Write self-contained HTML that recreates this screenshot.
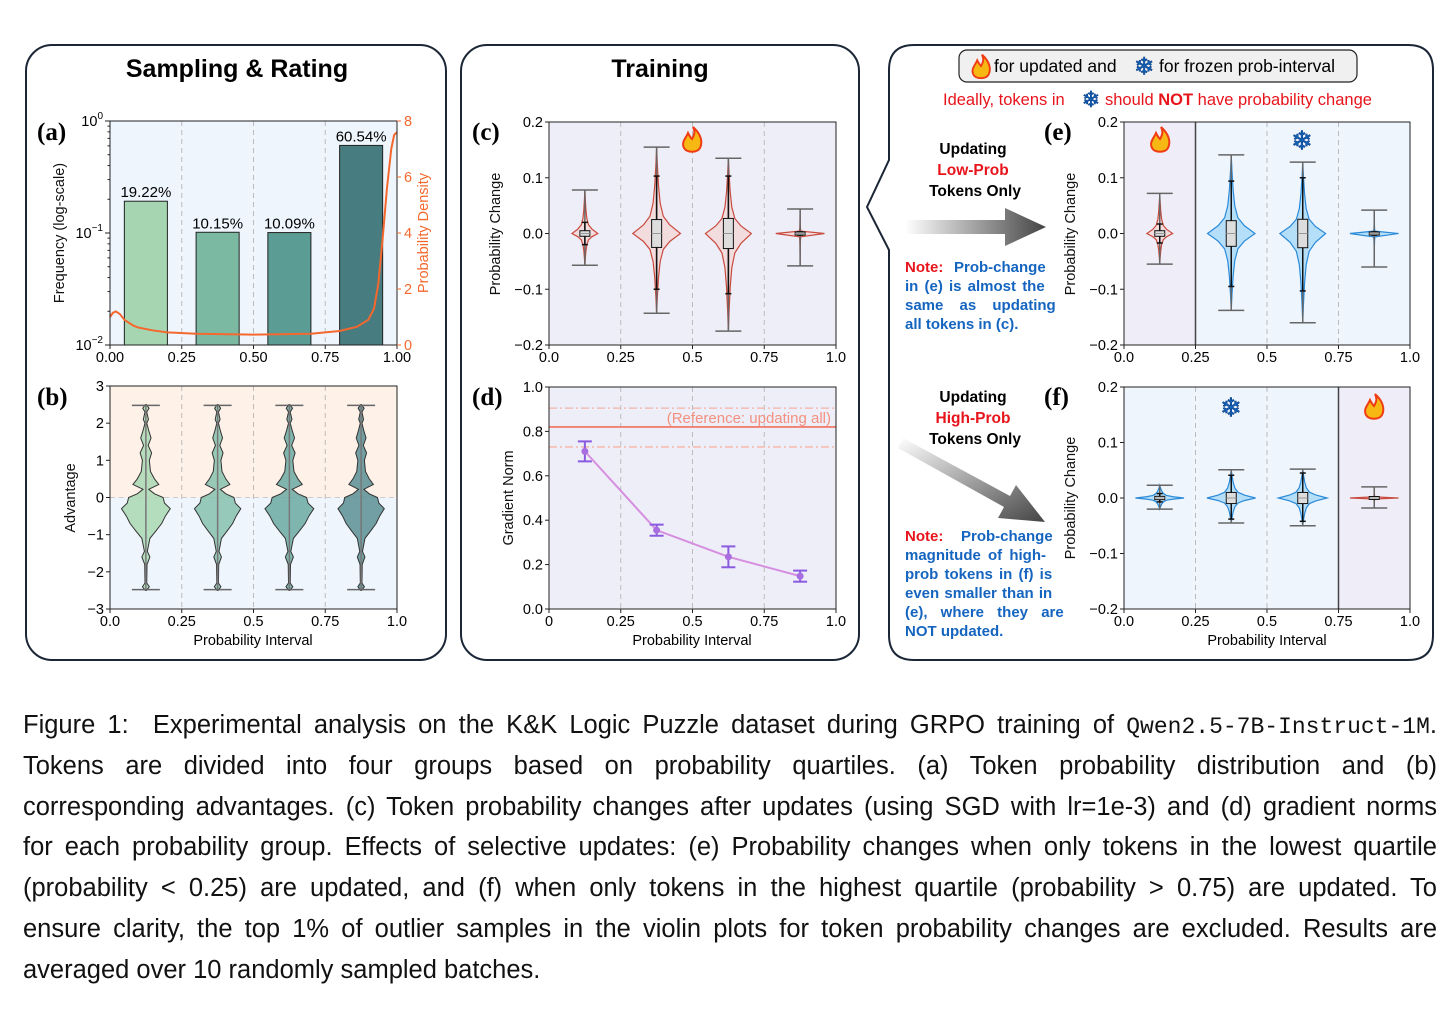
<!DOCTYPE html>
<html><head><meta charset="utf-8">
<style>
body{margin:0;background:#fff;width:1456px;height:1015px;overflow:hidden;font-family:"Liberation Sans","DejaVu Sans",sans-serif}
#cap{position:absolute;left:23px;top:705px;width:1414px;font-family:"Liberation Sans Narrow","Liberation Sans",sans-serif;font-size:25.5px;color:#111}
.ln{height:40.8px;line-height:40.8px;text-align:justify;text-align-last:justify;white-space:nowrap;overflow:hidden}
.mono{font-family:"Liberation Mono",monospace;font-size:23px}
</style></head><body>
<svg id="fig" width="1456" height="690" style="position:absolute;left:0;top:0" xmlns="http://www.w3.org/2000/svg">
<defs>
<linearGradient id="ag" x1="0" x2="1" y1="0" y2="0"><stop offset="0" stop-color="#fff"/><stop offset="1" stop-color="#444"/></linearGradient>
<linearGradient id="ag2" x1="0" x2="1" y1="0" y2="1"><stop offset="0" stop-color="#fff"/><stop offset="1" stop-color="#444"/></linearGradient>
</defs>
<rect x="26" y="45" width="420" height="615" rx="26" fill="none" stroke="#1b2636" stroke-width="2"/>
<rect x="461" y="45" width="398" height="615" rx="26" fill="none" stroke="#1b2636" stroke-width="2"/>
<path d="M914,45 H1408 Q1433,45 1433,70 V635 Q1433,660 1408,660 H914 Q889,660 889,635 V250 L867,207 L889,160 V70 Q889,45 914,45 Z" fill="none" stroke="#1b2636" stroke-width="2"/>
<text x="237" y="77" text-anchor="middle" font-size="25" font-weight="bold">Sampling &amp; Rating</text>
<text x="660" y="77" text-anchor="middle" font-size="25" font-weight="bold">Training</text>
<rect x="959" y="50" width="398" height="32" rx="8" fill="#f0f0f0" stroke="#222" stroke-width="1.2"/>
<text font-size="17.5" y="72"><tspan x="994">for updated and</tspan><tspan x="1159">for frozen prob-interval</tspan></text>
<text font-size="16.5" y="105" fill="#e8141c" x="943">Ideally, tokens in</text>
<text font-size="16.5" y="105" fill="#e8141c" x="1105">should <tspan font-weight="bold">NOT</tspan> have probability change</text>
<g font-size="15.5" font-weight="bold" text-anchor="middle">
<text x="973" y="154">Updating</text><text x="973" y="175" fill="#e8141c">Low-Prob</text><text x="975" y="196">Tokens Only</text></g>
<g font-size="15.5" font-weight="bold" text-anchor="middle">
<text x="973" y="402">Updating</text><text x="973" y="423" fill="#e8141c">High-Prob</text><text x="975" y="444">Tokens Only</text></g>
<path d="M905,220 H1005 V208 L1046,227 L1005,246 V234 H905 Z" fill="url(#ag)"/>
<path d="M898,448 L903,438 L1010,496 L1016,485 L1045,522 L998,518 L1004,507 Z" fill="url(#ag2)"/>
<g font-size="15" font-weight="bold" fill="#1565c0">
<text x="905" y="272"><tspan fill="#e8141c">Note:</tspan><tspan x="954">Prob-change</tspan></text>
<text x="905" y="291" word-spacing="2">in (e) is almost the</text>
<text x="905" y="310" word-spacing="12">same as updating</text>
<text x="905" y="329">all tokens in (c).</text></g>
<g font-size="15" font-weight="bold" fill="#1565c0">
<text x="905" y="541"><tspan fill="#e8141c">Note:</tspan><tspan x="961">Prob-change</tspan></text>
<text x="905" y="560" word-spacing="3">magnitude of high-</text>
<text x="905" y="579" word-spacing="2">prob tokens in (f) is</text>
<text x="905" y="598" word-spacing="1">even smaller than in</text>
<text x="905" y="617" word-spacing="9">(e), where they are</text>
<text x="905" y="636">NOT updated.</text></g>
<g id="plots"></g>
</svg>
<div id="cap">
<div class="ln">Figure 1:&nbsp; Experimental analysis on the K&amp;K Logic Puzzle dataset during GRPO training of <span class="mono">Qwen2.5-7B-Instruct-1M</span>.</div>
<div class="ln">Tokens are divided into four groups based on probability quartiles. (a) Token probability distribution and (b)</div>
<div class="ln">corresponding advantages. (c) Token probability changes after updates (using SGD with lr=1e-3) and (d) gradient norms</div>
<div class="ln">for each probability group. Effects of selective updates: (e) Probability changes when only tokens in the lowest quartile</div>
<div class="ln">(probability &lt; 0.25) are updated, and (f) when only tokens in the highest quartile (probability &gt; 0.75) are updated. To</div>
<div class="ln">ensure clarity, the top 1% of outlier samples in the violin plots for token probability changes are excluded. Results are</div>
<div class="ln" style="text-align-last:left">averaged over 10 randomly sampled batches.</div>
</div>
<script>
// ---- data ----
const centers = [0.125, 0.375, 0.625, 0.875];
const freqA = [0.1922, 0.1015, 0.1009, 0.6054];
const freqLabels = ["19.22%", "10.15%", "10.09%", "60.54%"];
const kdeX = [0, 0.01, 0.02, 0.035, 0.05, 0.08, 0.1, 0.15, 0.2, 0.3, 0.5, 0.7, 0.8, 0.86, 0.9, 0.92, 0.935, 0.95, 0.965, 0.98, 0.99, 1.0];
const kdeY = [1.0, 1.15, 1.2, 1.1, 0.9, 0.7, 0.62, 0.52, 0.45, 0.4, 0.37, 0.4, 0.5, 0.65, 0.9, 1.3, 2.2, 3.8, 5.6, 7.0, 7.5, 7.6];
const advProfY = [-2.5,-2.4,-2.3,-1.8,-1.6,-1.45,-1.1,-0.9,-0.7,-0.5,-0.3,-0.15,0,0.1,0.22,0.35,0.5,0.7,1.0,1.2,1.4,1.6,1.8,2.0,2.1,2.3,2.4,2.5];
const advProfW = [0.002,0.012,0.003,0.004,0.014,0.005,0.014,0.035,0.055,0.068,0.085,0.065,0.06,0.03,0.01,0.045,0.03,0.016,0.012,0.02,0.008,0.018,0.01,0.003,0.009,0.003,0.011,0.002];
const advScale = [1.0, 0.95, 1.0, 0.95];
const gradMean = [0.71, 0.355, 0.235, 0.148];
const gradErr = [0.045, 0.025, 0.047, 0.025];
const refMean = 0.82, refHi = 0.905, refLo = 0.73;
// [min, max, boxLo, boxHi, innerLo, innerHi, maxHalfWidth]
const chgC = [[-0.057,0.078,-0.005,0.005,-0.02,0.02,0.045],[-0.143,0.155,-0.025,0.025,-0.1,0.103,0.083],[-0.175,0.135,-0.027,0.027,-0.108,0.103,0.08],[-0.058,0.044,-0.001,0.001,-0.003,0.003,0.085]];
const chgE = [[-0.055,0.072,-0.005,0.005,-0.017,0.017,0.045],[-0.138,0.141,-0.023,0.023,-0.095,0.094,0.083],[-0.16,0.128,-0.027,0.024,-0.103,0.1,0.08],[-0.06,0.042,-0.001,0.001,-0.003,0.003,0.085]];
const chgF = [[-0.02,0.023,-0.003,0.003,-0.007,0.008,0.085],[-0.045,0.051,-0.01,0.01,-0.038,0.041,0.085],[-0.05,0.052,-0.01,0.01,-0.042,0.045,0.085],[-0.018,0.02,-0.001,0.001,-0.002,0.002,0.085]];
const shapeT = [-1,-0.8,-0.55,-0.35,-0.2,-0.1,0,0.1,0.2,0.35,0.55,0.8,1];
const shapeW = [0,0.03,0.08,0.15,0.28,0.55,1,0.55,0.28,0.15,0.08,0.03,0];
const xt4 = ["0.0","0.25","0.5","0.75","1.0"];

const NS = "http://www.w3.org/2000/svg";
const root = document.getElementById('plots');
function mk(tag, attrs, name, parent) {
  const el = document.createElementNS(NS, tag);
  for (const k in attrs) el.setAttribute(k, attrs[k]);
  
  
  (parent || root).appendChild(el);
  return el;
}
function txt(x, y, s, name, opt) {
  const t = mk('text', Object.assign({x: x, y: y, 'font-size': 14.5}, opt || {}), name);
  t.textContent = s; return t;
}
function ax(x0, x1, y0, y1, ymin, ymax) {
  return {x0, x1, y0, y1, sx: v => x0 + v * (x1 - x0), sy: v => y1 - (v - ymin) / (ymax - ymin) * (y1 - y0)};
}
function frame(a, name) {
  mk('rect', {x: a.x0, y: a.y0, width: a.x1 - a.x0, height: a.y1 - a.y0, fill: 'none', stroke: '#222', 'stroke-width': 1}, name);
}
function grid(a, name) {
  [0.25, 0.5, 0.75].forEach(v => mk('line', {x1: a.sx(v), x2: a.sx(v), y1: a.y0, y2: a.y1, stroke: '#bbb', 'stroke-dasharray': '5,4', 'stroke-width': 1}, name));
}
function xticks(a, labels, name) {
  labels.forEach((l, i) => {
    const x = a.sx(i / (labels.length - 1));
    mk('line', {x1: x, x2: x, y1: a.y1, y2: a.y1 + 4, stroke: '#222'}, name + '-tick');
    txt(x, a.y1 + 17, l, name + '-label', {'text-anchor': 'middle'});
  });
}
function yticks(a, vals, labels, name) {
  vals.forEach((v, i) => {
    const y = a.sy(v);
    mk('line', {x1: a.x0 - 4, x2: a.x0, y1: y, y2: y, stroke: '#222'}, name + '-tick');
    txt(a.x0 - 6, y + 5, labels[i], name + '-label', {'text-anchor': 'end'});
  });
}
function ylabel(x, y, s, name, col) {
  txt(x, y, s, name, {transform: 'rotate(-90 ' + x + ' ' + y + ')', 'text-anchor': 'middle', fill: col || '#111'});
}
function plabel(x, y, s, name) {
  txt(x, y, s, name, {'font-size': 25, 'font-weight': 'bold', 'font-family': '"Liberation Serif",serif'});
}
function flame(x, y, s, name) {
  const g = mk('g', {transform: 'translate(' + x + ',' + y + ') scale(' + s + ')'}, name);
  mk('path', {d: 'M1,-13 C9,-6 11,2 8,8 C5,13 -5,13 -8,8 C-11,2 -6,-2 -4,-7 C-2,-3 -1,-2 0,-1 C3,-6 3,-9 1,-13 Z', fill: '#f7b814', stroke: '#f03c14', 'stroke-width': 2}, name + '-shape', g);
}
function flake(x, y, s, name) {
  return txt(x, y + s * 0.36, '❄', name, {'text-anchor': 'middle', 'font-size': s, fill: '#1466c0', stroke: '#0b3f86', 'stroke-width': 0.6, 'font-family': '"DejaVu Sans",sans-serif'});
}
flame(981, 67, 0.95, 'legend-flame');
flake(1144, 66, 24, 'legend-snowflake');
flake(1091, 99, 22, 'note-snowflake');

// ---- (a) ----
const A = ax(110, 397, 121, 345, -2, 0);
const aLog = v => A.sy(Math.log10(v));
mk('rect', {x: A.x0, y: A.y0, width: 287, height: 224, fill: '#eef5fd'}, 'plot-a-background');
grid(A, 'plot-a-gridline');
const barCols = ['#a6d6b1', '#7bb9a3', '#5b9c94', '#477c80'];
freqA.forEach((f, i) => {
  const x = A.sx(centers[i] - 0.075);
  mk('rect', {x: x, y: aLog(f), width: A.sx(0.15) - A.x0, height: A.y1 - aLog(f), fill: barCols[i], stroke: '#222', 'stroke-width': 1}, 'bar-frequency-' + (i + 1));
  txt(A.sx(centers[i]), aLog(f) - 4, freqLabels[i], 'bar-value-label', {'text-anchor': 'middle', 'font-size': 15});
});
const dens = v => A.y1 - v / 8 * (A.y1 - A.y0);
mk('polyline', {points: kdeX.map((x, i) => A.sx(x) + ',' + dens(kdeY[i])).join(' '), fill: 'none', stroke: '#f4682e', 'stroke-width': 2, 'stroke-linejoin': 'round'}, 'density-curve');
frame(A, 'plot-a-frame');
xticks(A, ["0.00","0.25","0.50","0.75","1.00"], 'plot-a-x');
[-2, -1, 0].forEach(e => {
  const y = A.sy(e);
  mk('line', {x1: A.x0 - 5, x2: A.x0, y1: y, y2: y, stroke: '#222'}, 'plot-a-y-tick');
  const t = txt(A.x0 - 7, y + 5, '10', 'plot-a-y-label', {'text-anchor': 'end'});
  const sp = document.createElementNS(NS, 'tspan');
  sp.setAttribute('dy', '-7'); sp.setAttribute('font-size', '10'); sp.textContent = e === 0 ? '0' : '−' + (-e);
  t.appendChild(sp);
});
for (let e = -2; e < 0; e++) for (let k = 2; k < 10; k++) {
  const y = aLog(k * Math.pow(10, e));
  mk('line', {x1: A.x0 - 2.5, x2: A.x0, y1: y, y2: y, stroke: '#222'}, 'plot-a-minor-tick');
}
[0, 2, 4, 6, 8].forEach(v => {
  const y = dens(v);
  mk('line', {x1: A.x1, x2: A.x1 + 4, y1: y, y2: y, stroke: '#f4682e'}, 'plot-a-y2-tick');
  txt(A.x1 + 7, y + 5, String(v), 'plot-a-y2-label', {fill: '#f4682e'});
});
ylabel(64, 233, 'Frequency (log-scale)', 'plot-a-y-title');
ylabel(428, 233, 'Probability Density', 'plot-a-y2-title', '#f4682e');
plabel(37, 140, '(a)', 'panel-label-a');

// ---- (b) ----
const B = ax(110, 397, 386, 609, -3, 3);
mk('rect', {x: B.x0, y: B.y0, width: 287, height: B.sy(0) - B.y0, fill: '#fdf1e8'}, 'plot-b-positive-region');
mk('rect', {x: B.x0, y: B.sy(0), width: 287, height: B.y1 - B.sy(0), fill: '#eef5fd'}, 'plot-b-negative-region');
mk('line', {x1: B.x0, x2: B.x1, y1: B.sy(0), y2: B.sy(0), stroke: '#ccc', 'stroke-dasharray': '5,4'}, 'plot-b-zero-line');
grid(B, 'plot-b-gridline');
const vCols = ['#a9d8b3', '#86c1ad', '#6aa9a1', '#5a8f94'];
centers.forEach((c, i) => {
  const right = advProfY.map((y, j) => B.sx(c + advProfW[j] * advScale[i]) + ',' + B.sy(y));
  const left = advProfY.map((y, j) => B.sx(c - advProfW[j] * advScale[i]) + ',' + B.sy(y)).reverse();
  mk('polygon', {points: right.concat(left).join(' '), fill: vCols[i], 'fill-opacity': 0.85, stroke: '#333', 'stroke-width': 1}, 'advantage-violin-' + (i + 1));
  const x = B.sx(c), w = 14;
  mk('line', {x1: x, x2: x, y1: B.sy(2.48), y2: B.sy(-2.48), stroke: '#777', 'stroke-width': 1.5}, 'advantage-violin-stem');
  [2.48, -2.48].forEach(v => mk('line', {x1: x - w, x2: x + w, y1: B.sy(v), y2: B.sy(v), stroke: '#666', 'stroke-width': 1.5}, 'advantage-violin-cap'));
});
frame(B, 'plot-b-frame');
xticks(B, xt4, 'plot-b-x');
yticks(B, [3,2,1,0,-1,-2,-3], ['3','2','1','0','−1','−2','−3'], 'plot-b-y');
txt(253, 645, 'Probability Interval', 'plot-b-x-title', {'text-anchor': 'middle'});
ylabel(75, 498, 'Advantage', 'plot-b-y-title');
plabel(37, 405, '(b)', 'panel-label-b');

// ---- violin change plots ----
function chgPlot(a, data, cols, name) {
  data.forEach((d, i) => {
    const c = centers[i], mx = d[6];
    const ys = shapeT.map(t => t < 0 ? t * (-d[0]) : t * d[1]);
    const flat = (d[3] - d[2]) < 0.005;
    const wmul = shapeW.map(w => flat ? (w === 1 ? 1 : w * 0.05) : w);
    const r = ys.map((y, j) => a.sx(c + wmul[j] * mx) + ',' + a.sy(y));
    const l = ys.map((y, j) => a.sx(c - wmul[j] * mx) + ',' + a.sy(y)).reverse();
    const col = cols[i];
    mk('polygon', {points: r.concat(l).join(' '), fill: col[0], 'fill-opacity': 0.6, stroke: col[1], 'stroke-width': 1.2}, name + '-violin-' + (i + 1));
    const x = a.sx(c), w = 13;
    mk('line', {x1: x, x2: x, y1: a.sy(d[1]), y2: a.sy(d[0]), stroke: '#666', 'stroke-width': 1.5}, name + '-whisker');
    [d[0], d[1]].forEach(v => mk('line', {x1: x - w, x2: x + w, y1: a.sy(v), y2: a.sy(v), stroke: '#666', 'stroke-width': 1.5}, name + '-cap'));
    mk('line', {x1: x, x2: x, y1: a.sy(d[5]), y2: a.sy(d[4]), stroke: '#111', 'stroke-width': 1.5}, name + '-inner-whisker');
    [d[4], d[5]].forEach(v => mk('line', {x1: x - 3, x2: x + 3, y1: a.sy(v), y2: a.sy(v), stroke: '#111', 'stroke-width': 1.5}, name + '-inner-cap'));
    const bh = Math.max(a.sy(d[2]) - a.sy(d[3]), 3);
    mk('rect', {x: x - 5, y: a.sy(0) - bh / 2, width: 10, height: bh, fill: '#ddd', stroke: '#111', 'stroke-width': 1}, name + '-box');
    mk('line', {x1: x - 5, x2: x + 5, y1: a.sy(0), y2: a.sy(0), stroke: '#999'}, name + '-median');
  });
}
const yv = [0.2, 0.1, 0, -0.1, -0.2], yl = ['0.2','0.1','0.0','−0.1','−0.2'];
const red = ['#f6d0cc', '#c94a3e'], blue = ['#8fd0f5', '#2a8ad8'];

// (c)
const C = ax(549, 836, 122, 345, -0.2, 0.2);
mk('rect', {x: C.x0, y: C.y0, width: 287, height: 223, fill: '#eeeef8'}, 'plot-c-background');
grid(C, 'plot-c-gridline');
chgPlot(C, chgC, [red, red, red, red], 'plot-c');
frame(C, 'plot-c-frame');
xticks(C, xt4, 'plot-c-x'); yticks(C, yv, yl, 'plot-c-y');
ylabel(500, 234, 'Probability Change', 'plot-c-y-title');
flame(692, 140, 1.0, 'plot-c-flame');
plabel(472, 140, '(c)', 'panel-label-c');

// (d)
const D = ax(549, 836, 387, 609, 0, 1);
mk('rect', {x: D.x0, y: D.y0, width: 287, height: 222, fill: '#eeeef8'}, 'plot-d-background');
grid(D, 'plot-d-gridline');
[refHi, refLo].forEach(v => mk('line', {x1: D.x0, x2: D.x1, y1: D.sy(v), y2: D.sy(v), stroke: '#f6b3a5', 'stroke-width': 1.3, 'stroke-dasharray': '8,3,2,3'}, 'reference-band'));
mk('line', {x1: D.x0, x2: D.x1, y1: D.sy(refMean), y2: D.sy(refMean), stroke: '#f08070', 'stroke-width': 1.8}, 'reference-line');
txt(831, D.sy(refMean) - 4, '(Reference: updating all)', 'reference-label', {'text-anchor': 'end', fill: '#f3907f', 'font-size': 15});
mk('polyline', {points: centers.map((c, i) => D.sx(c) + ',' + D.sy(gradMean[i])).join(' '), fill: 'none', stroke: '#d68ee0', 'stroke-width': 2}, 'gradient-norm-line');
centers.forEach((c, i) => {
  const x = D.sx(c), t = D.sy(gradMean[i] + gradErr[i]), b = D.sy(gradMean[i] - gradErr[i]);
  mk('line', {x1: x, x2: x, y1: t, y2: b, stroke: '#8a5be0', 'stroke-width': 2}, 'error-bar');
  [t, b].forEach(y => mk('line', {x1: x - 7, x2: x + 7, y1: y, y2: y, stroke: '#8a5be0', 'stroke-width': 2}, 'error-cap'));
  mk('circle', {cx: x, cy: D.sy(gradMean[i]), r: 3.5, fill: '#a86ee0'}, 'gradient-norm-point');
});
frame(D, 'plot-d-frame');
xticks(D, ["0","0.25","0.5","0.75","1.0"], 'plot-d-x');
yticks(D, [1,0.8,0.6,0.4,0.2,0], ['1.0','0.8','0.6','0.4','0.2','0.0'], 'plot-d-y');
txt(692, 645, 'Probability Interval', 'plot-d-x-title', {'text-anchor': 'middle'});
ylabel(513, 498, 'Gradient Norm', 'plot-d-y-title');
plabel(472, 405, '(d)', 'panel-label-d');

// (e)
const E = ax(1124, 1410, 122, 345, -0.2, 0.2);
mk('rect', {x: E.x0, y: E.y0, width: 286, height: 223, fill: '#eef5fd'}, 'plot-e-background');
mk('rect', {x: E.x0, y: E.y0, width: E.sx(0.25) - E.x0, height: 223, fill: '#efeef8'}, 'plot-e-updated-region');
grid(E, 'plot-e-gridline');
mk('line', {x1: E.sx(0.25), x2: E.sx(0.25), y1: E.y0, y2: E.y1, stroke: '#444', 'stroke-width': 1.5}, 'plot-e-divider');
chgPlot(E, chgE, [red, blue, blue, blue], 'plot-e');
frame(E, 'plot-e-frame');
xticks(E, xt4, 'plot-e-x'); yticks(E, yv, yl, 'plot-e-y');
ylabel(1075, 234, 'Probability Change', 'plot-e-y-title');
flame(1160, 140, 1.0, 'plot-e-flame');
flake(1302, 140, 26, 'plot-e-snowflake');
plabel(1044, 140, '(e)', 'panel-label-e');

// (f)
const F = ax(1124, 1410, 387, 609, -0.2, 0.2);
mk('rect', {x: F.x0, y: F.y0, width: 286, height: 222, fill: '#eef5fd'}, 'plot-f-background');
mk('rect', {x: F.sx(0.75), y: F.y0, width: F.x1 - F.sx(0.75), height: 222, fill: '#efeef8'}, 'plot-f-updated-region');
grid(F, 'plot-f-gridline');
mk('line', {x1: F.sx(0.75), x2: F.sx(0.75), y1: F.y0, y2: F.y1, stroke: '#444', 'stroke-width': 1.5}, 'plot-f-divider');
chgPlot(F, chgF, [blue, blue, blue, red], 'plot-f');
frame(F, 'plot-f-frame');
xticks(F, xt4, 'plot-f-x'); yticks(F, yv, yl, 'plot-f-y');
txt(1267, 645, 'Probability Interval', 'plot-f-x-title', {'text-anchor': 'middle'});
ylabel(1075, 498, 'Probability Change', 'plot-f-y-title');
flake(1231, 407, 26, 'plot-f-snowflake');
flame(1374, 407, 1.0, 'plot-f-flame');
plabel(1044, 405, '(f)', 'panel-label-f');
</script>
</body></html>
